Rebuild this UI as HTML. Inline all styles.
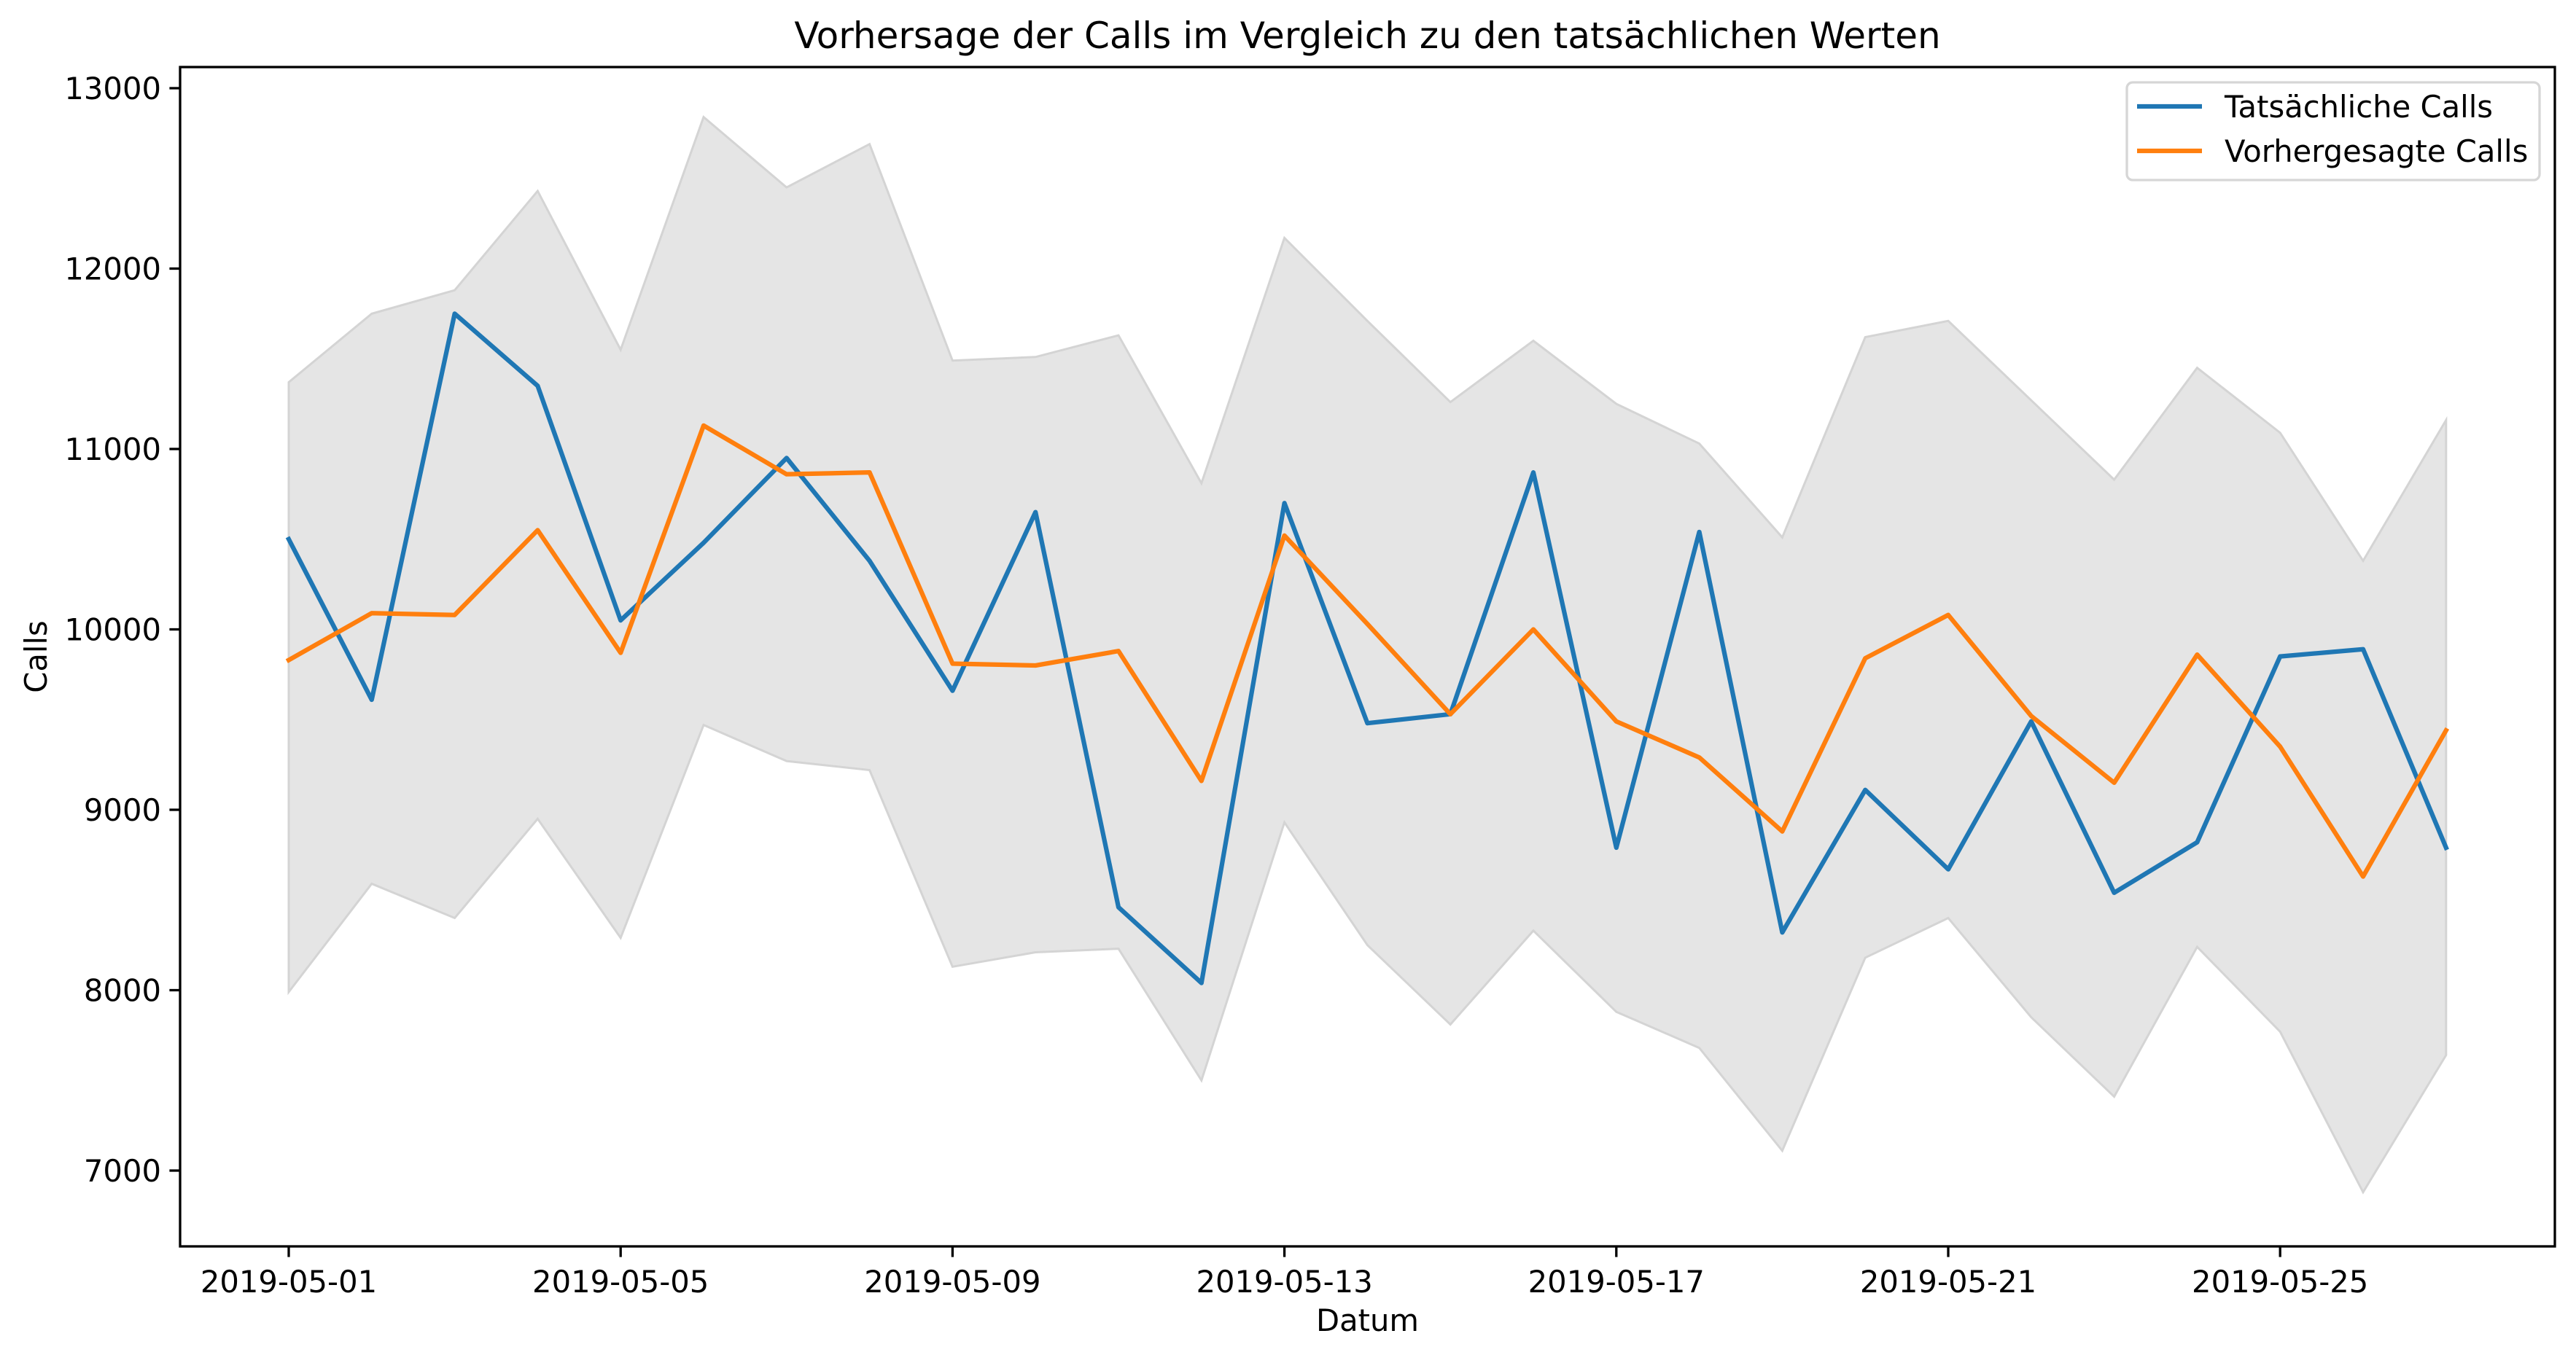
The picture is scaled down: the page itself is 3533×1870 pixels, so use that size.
<!DOCTYPE html>
<html><head><meta charset="utf-8"><style>
html,body{margin:0;padding:0;background:#fff;}
svg text{font-family:"DejaVu Sans","Liberation Sans",sans-serif;}
</style></head><body>
<svg id="chart" width="3533" height="1865" viewBox="0 0 3533 1865" xmlns="http://www.w3.org/2000/svg">
<rect width="3533" height="1865" fill="#fff"/>
<g id="plot"></g>
</svg>
<script>
const dayLabels = ["2019-05-01","2019-05-05","2019-05-09","2019-05-13","2019-05-17","2019-05-21","2019-05-25"];
const dayTickIdx = [0,4,8,12,16,20,24];
const yTicks = [7000,8000,9000,10000,11000,12000,13000];
const actual = [10500,9610,11750,11350,10050,10480,10950,10380,9660,10650,8460,8040,10700,9480,9530,10870,8790,10540,8320,9110,8670,9490,8540,8820,9850,9890,8790];
const predicted = [9830,10090,10080,10550,9870,11130,10860,10870,9810,9800,9880,9160,10520,10030,9530,10000,9490,9290,8880,9840,10080,9520,9150,9860,9350,8630,9440];
const upper = [11370,11750,11880,12430,11550,12840,12450,12690,11490,11510,11630,10810,12170,11710,11260,11600,11250,11030,10510,11620,11710,11270,10830,11450,11090,10380,11160];
const lower = [7990,8590,8400,8950,8290,9470,9270,9220,8130,8210,8230,7500,8930,8250,7810,8330,7880,7680,7110,8180,8400,7850,7410,8240,7770,6880,7640];

const L=247,R=3504,T=92,B=1710;
const x = i => 396 + i*113.8;
const y = v => 121 + (13000-v)*0.2475;
const NS="http://www.w3.org/2000/svg";
const g=document.getElementById('plot');
function mk(tag,attrs,parent){const e=document.createElementNS(NS,tag);for(const k in attrs)e.setAttribute(k,attrs[k]);(parent||g).appendChild(e);return e;}

// band
let d = upper.map((v,i)=>(i?'L':'M')+x(i)+','+y(v)).join(' ');
for(let i=lower.length-1;i>=0;i--) d+=' L'+x(i)+','+y(lower[i]);
const band=mk('path',{d:d+' Z',fill:'#e5e5e5',stroke:'#d4d4d4','stroke-width':3});



function line(arr,color,name){
  const p=mk('path',{d:arr.map((v,i)=>(i?'L':'M')+x(i)+','+y(v)).join(' '),fill:'none',stroke:color,'stroke-width':6.25,'stroke-linejoin':'round','stroke-linecap':'square'});
  
  
}
line(actual,'#1f77b4','actual-calls-line');
line(predicted,'#ff7f0e','predicted-calls-line');

// axes frame
const fr=mk('rect',{x:L,y:T,width:R-L,height:B-T,fill:'none',stroke:'#000','stroke-width':3.3});



// y ticks
yTicks.forEach(v=>{
  mk('line',{x1:L-14.6,x2:L,y1:y(v),y2:y(v),stroke:'#000','stroke-width':3.3});
  const t=mk('text',{x:L-26,y:y(v)+15,'text-anchor':'end','font-size':41.7});
  t.textContent=v;
  
  
});
// x ticks
dayTickIdx.forEach((idx,k)=>{
  mk('line',{x1:x(idx),x2:x(idx),y1:B,y2:B+14.6,stroke:'#000','stroke-width':3.3});
  const t=mk('text',{x:x(idx),y:B+63,'text-anchor':'middle','font-size':41.7});
  t.textContent=dayLabels[k];
  
  
});

const title=mk('text',{x:(L+R)/2,y:66,'text-anchor':'middle','font-size':50});
title.textContent='Vorhersage der Calls im Vergleich zu den tatsächlichen Werten';



const xl=mk('text',{x:(L+R)/2,y:1826,'text-anchor':'middle','font-size':41.7});
xl.textContent='Datum';



const yl=mk('text',{x:0,y:0,'text-anchor':'middle','font-size':41.7,transform:'translate(64,901) rotate(-90)'});
yl.textContent='Calls';



// legend
const lg=mk('g',{});


mk('rect',{x:2917,y:113,width:566,height:134,rx:8,fill:'#fff','fill-opacity':0.8,stroke:'#d6d6d6','stroke-width':3.3},lg);
[['Tatsächliche Calls','#1f77b4',146],['Vorhergesagte Calls','#ff7f0e',207]].forEach(([lab,c,yy])=>{
  const e=mk('g',{},lg);
  
  
  mk('line',{x1:2931,x2:3020,y1:yy,y2:yy,stroke:c,'stroke-width':6.25},e);
  const t=mk('text',{x:3051,y:yy+15,'font-size':41.7},e);
  t.textContent=lab;
});
</script>
</body></html>
